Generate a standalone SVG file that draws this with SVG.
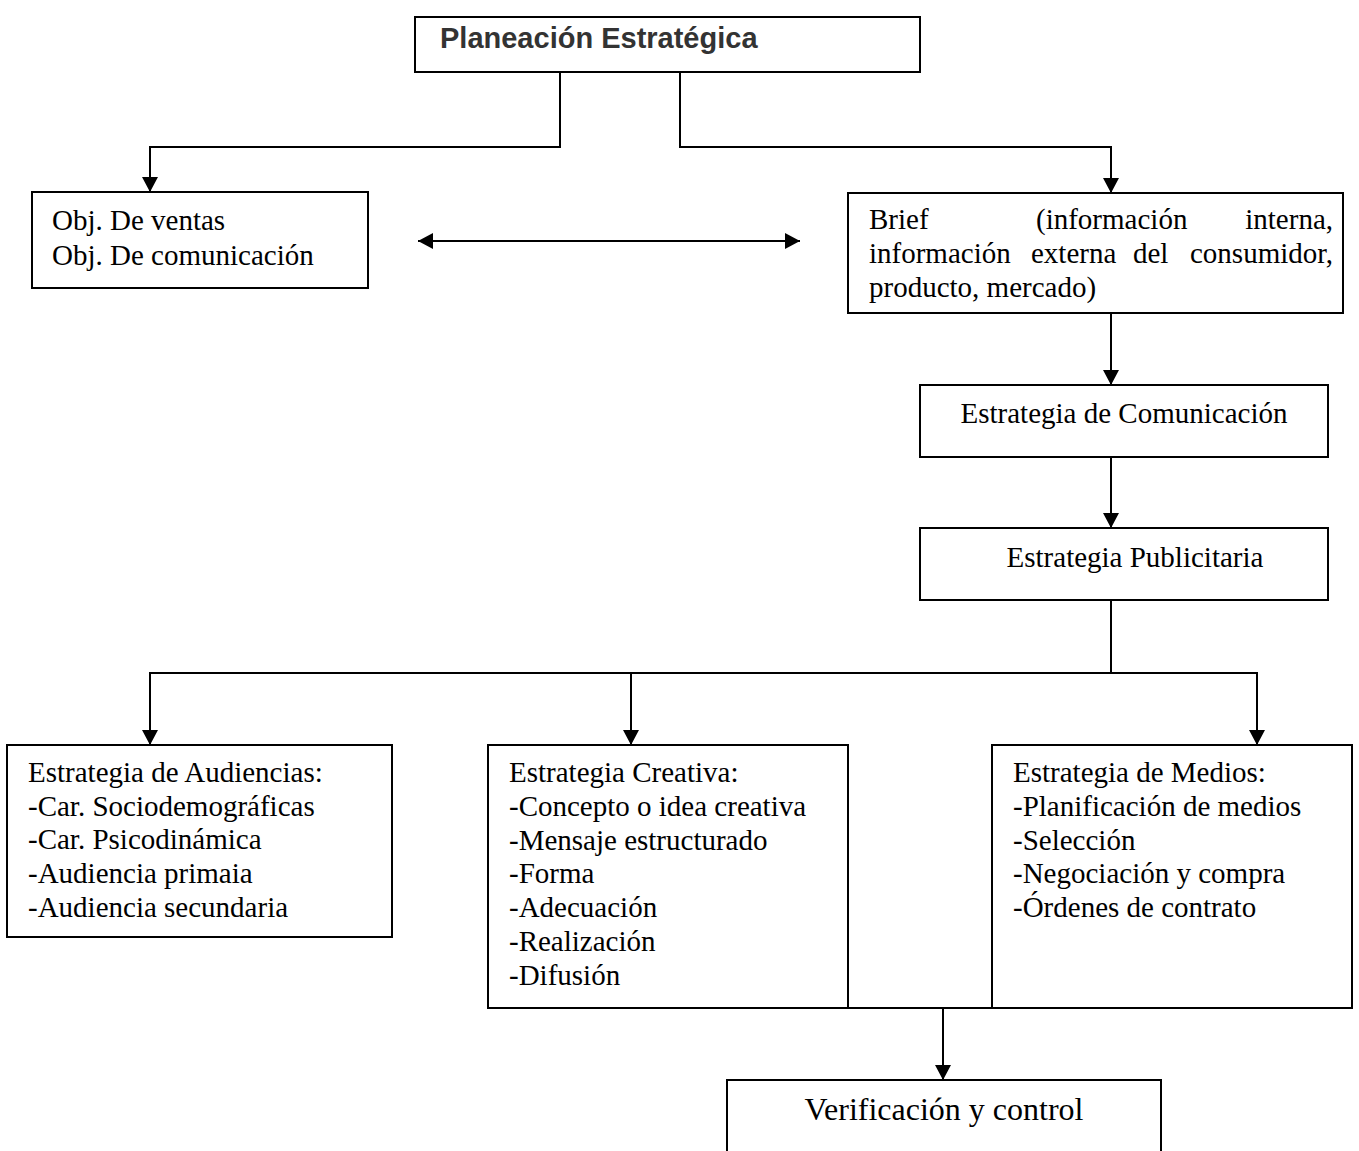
<svg xmlns="http://www.w3.org/2000/svg" width="1359" height="1151" viewBox="0 0 1359 1151">
<style>
.box{fill:#fff;stroke:#000;stroke-width:2}
.t{font-family:"Liberation Serif","Times New Roman",serif;font-size:29px;fill:#000}
.title{font-family:"Liberation Sans",Arial,sans-serif;font-size:29px;font-weight:bold;fill:#333}
.big{font-family:"Liberation Serif","Times New Roman",serif;font-size:32px;fill:#000}
.c{fill:none;stroke:#000;stroke-width:2}
</style>
<defs>
<marker id="ah" viewBox="0 0 15 16" refX="15" refY="8" markerWidth="15" markerHeight="16" markerUnits="userSpaceOnUse" orient="auto-start-reverse">
<path d="M0,0 L15,8 L0,16 z" fill="#000"/>
</marker>
</defs>
<rect width="1359" height="1151" fill="#fff"/>
<g id="connectors">
<polyline class="c" points="560,72 560,147 150,147 150,192" marker-end="url(#ah)"/>
<polyline class="c" points="680,72 680,147 1111,147 1111,193" marker-end="url(#ah)"/>
<line class="c" x1="418" y1="241" x2="800" y2="241" marker-start="url(#ah)" marker-end="url(#ah)"/>
<line class="c" x1="1111" y1="313" x2="1111" y2="385" marker-end="url(#ah)"/>
<line class="c" x1="1111" y1="457" x2="1111" y2="528" marker-end="url(#ah)"/>
<polyline class="c" points="1111,600 1111,673"/>
<polyline class="c" points="150,673 1257,673"/>
<line class="c" x1="150" y1="672" x2="150" y2="745" marker-end="url(#ah)"/>
<line class="c" x1="631" y1="673" x2="631" y2="745" marker-end="url(#ah)"/>
<line class="c" x1="1257" y1="672" x2="1257" y2="745" marker-end="url(#ah)"/>
<line class="c" x1="848" y1="1008" x2="992" y2="1008"/>
<line class="c" x1="943" y1="1008" x2="943" y2="1080" marker-end="url(#ah)"/>
</g>
<g id="planeacion">
<rect class="box" x="415" y="17" width="505" height="55"/>
<text class="title" x="440" y="48">Planeación Estratégica</text>
</g>
<g id="objetivos">
<rect class="box" x="32" y="192" width="336" height="96"/>
<text class="t" x="52" y="230">Obj. De ventas</text>
<text class="t" x="52" y="265">Obj. De comunicación</text>
</g>
<g id="brief">
<rect class="box" x="848" y="193" width="495" height="120"/>
<text class="t" y="229"><tspan x="869">Brief</tspan><tspan x="1036">(información</tspan><tspan x="1333" text-anchor="end">interna,</tspan></text>
<text class="t" y="263"><tspan x="869">información</tspan><tspan x="1031">externa</tspan><tspan x="1133">del</tspan><tspan x="1333" text-anchor="end">consumidor,</tspan></text>
<text class="t" x="869" y="297">producto, mercado)</text>
</g>
<g id="comunicacion">
<rect class="box" x="920" y="385" width="408" height="72"/>
<text class="t" x="1124" y="423" text-anchor="middle">Estrategia de Comunicación</text>
</g>
<g id="publicitaria">
<rect class="box" x="920" y="528" width="408" height="72"/>
<text class="t" x="1135" y="567" text-anchor="middle">Estrategia Publicitaria</text>
</g>
<g id="audiencias">
<rect class="box" x="7" y="745" width="385" height="192"/>
<text class="t" x="28" y="782">Estrategia de Audiencias:</text>
<text class="t" x="28" y="816">-Car. Sociodemográficas</text>
<text class="t" x="28" y="849">-Car. Psicodinámica</text>
<text class="t" x="28" y="883">-Audiencia primaia</text>
<text class="t" x="28" y="917">-Audiencia secundaria</text>
</g>
<g id="creativa">
<rect class="box" x="488" y="745" width="360" height="263"/>
<text class="t" x="509" y="782">Estrategia Creativa:</text>
<text class="t" x="509" y="816">-Concepto o idea creativa</text>
<text class="t" x="509" y="850">-Mensaje estructurado</text>
<text class="t" x="509" y="883">-Forma</text>
<text class="t" x="509" y="917">-Adecuación</text>
<text class="t" x="509" y="951">-Realización</text>
<text class="t" x="509" y="985">-Difusión</text>
</g>
<g id="medios">
<rect class="box" x="992" y="745" width="360" height="263"/>
<text class="t" x="1013" y="782">Estrategia de Medios:</text>
<text class="t" x="1013" y="816">-Planificación de medios</text>
<text class="t" x="1013" y="850">-Selección</text>
<text class="t" x="1013" y="883">-Negociación y compra</text>
<text class="t" x="1013" y="917">-Órdenes de contrato</text>
</g>
<g id="verificacion">
<rect class="box" x="727" y="1080" width="434" height="90"/>
<text class="big" x="944" y="1120" text-anchor="middle">Verificación y control</text>
</g>
</svg>
